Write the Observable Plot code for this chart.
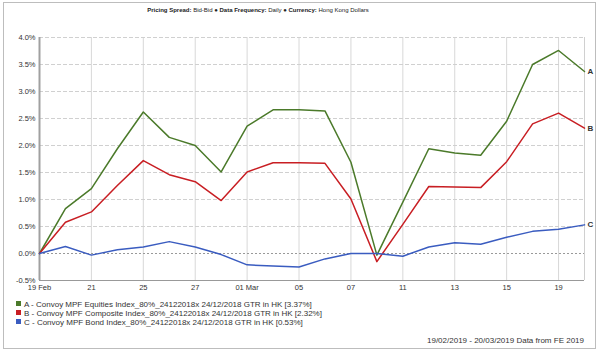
<!DOCTYPE html>
<html><head><meta charset="utf-8">
<script src="https://cdn.jsdelivr.net/npm/d3@7"></script>
<script src="https://cdn.jsdelivr.net/npm/@observablehq/plot@0.6"></script>
<style>
body{margin:0;background:#fff;font-family:"Liberation Sans",Arial,sans-serif;}
#frame{position:absolute;left:3px;top:2px;width:593px;height:347px;border:1px solid #bdbdbd;box-sizing:border-box;}
#title{position:absolute;left:0;width:516px;top:7px;text-align:center;font-size:6px;color:#222;}
#chart{position:absolute;left:0;top:25px;}
#yaxis{position:absolute;left:0;top:25px;}
.leg{position:absolute;left:16px;font-size:8px;color:#333;white-space:nowrap;}
.leg span.sw{display:inline-block;width:5px;height:5px;margin-right:3px;vertical-align:middle;position:relative;top:-1px;}
#foot{position:absolute;right:16px;top:336px;font-size:8px;color:#333;}
</style></head>
<body>
<div id="frame"></div>
<div id="title"><b>Pricing Spread:</b> Bid-Bid &#9679; <b>Data Frequency:</b> Daily &#9679; <b>Currency:</b> Hong Kong Dollars</div>
<div id="legend"></div>
<div id="foot">19/02/2019 - 20/03/2019 Data from FE 2019</div>
<div id="chart"></div>
<div id="yaxis"></div>
<script>
const dayLabels = ["19 Feb","20","21","22","25","26","27","28","01 Mar","04","05","06","07","08","11","12","13","14","15","18","19","20"];
const seriesA = [0,0.83,1.20,1.94,2.62,2.15,2.00,1.51,2.36,2.66,2.66,2.64,1.69,-0.03,0.95,1.94,1.86,1.82,2.45,3.50,3.76,3.37];
const seriesB = [0,0.58,0.77,1.26,1.72,1.46,1.33,0.98,1.51,1.68,1.68,1.67,1.01,-0.15,0.54,1.24,1.23,1.22,1.70,2.40,2.60,2.32];
const seriesC = [0,0.13,-0.03,0.07,0.12,0.22,0.12,-0.02,-0.21,-0.23,-0.25,-0.10,0.00,0.00,-0.05,0.12,0.20,0.17,0.30,0.41,0.45,0.53];
const seriesKeys = ["A","B","C"];
const seriesNames = [
  "A - Convoy MPF Equities Index_80%_24122018x 24/12/2018 GTR in HK [3.37%]",
  "B - Convoy MPF Composite Index_80%_24122018x 24/12/2018 GTR in HK [2.32%]",
  "C - Convoy MPF Bond Index_80%_24122018x 24/12/2018 GTR in HK [0.53%]"
];
const colors = ["#4b7a2a","#c81e23","#3a5cc0"];
const yTicks = [-0.5,0,0.5,1,1.5,2,2.5,3,3.5,4];

const allSeries = [seriesA, seriesB, seriesC];
const data = [];
allSeries.forEach((s, k) => s.forEach((v, i) => data.push({i, v, key: seriesKeys[k]})));
const xTicks = dayLabels.map((d, i) => i).filter(i => i % 2 === 0);
const ends = allSeries.map((s, k) => ({i: s.length - 1, v: s[s.length - 1], key: seriesKeys[k]}));
const fmtPct = d => d.toFixed(1) + "%";

const common = {
  width: 600, height: 270,
  marginLeft: 39, marginRight: 16, marginTop: 12, marginBottom: 15,
  style: {fontFamily: "'Liberation Sans', Arial, sans-serif", fontSize: "7.5px", background: "transparent", overflow: "visible"},
  x: {domain: [0, dayLabels.length - 1], label: null},
  y: {domain: [-0.5, 4], label: null}
};

const chart = Plot.plot({
  ...common,
  y: {domain: [-0.5, 4], label: null, axis: null},
  color: {domain: seriesKeys, range: colors},
  marks: [
    Plot.ruleX(xTicks, {stroke: "#d8d8d8", strokeWidth: 1}),
    Plot.ruleY(yTicks.filter(d => d !== 0 && d !== -0.5), {stroke: "#d0d0d0", strokeDasharray: "4,2"}),
    Plot.ruleY([0], {stroke: "#999", strokeDasharray: "2,2"}),
    Plot.ruleX([dayLabels.length - 1], {stroke: "#d0d0d0"}),
    Plot.ruleY([-0.5], {stroke: "#999"}),
    Plot.ruleX([0], {stroke: "#a0a0a0", strokeWidth: 2}),
    Plot.line(data, {x: "i", y: "v", z: "key", stroke: "key", strokeWidth: 1.5}),
    Plot.text(ends, {x: "i", y: "v", text: "key", dx: 3, textAnchor: "start", fontWeight: "bold", fontSize: 8, fill: "#333"}),
    Plot.axisX({ticks: xTicks, tickFormat: i => dayLabels[i], tickSize: 0, tickPadding: 4, fill: "#333"})
  ]
});
document.getElementById("chart").appendChild(chart);

const yAxisPlot = Plot.plot({
  ...common,
  x: {domain: [0, dayLabels.length - 1], label: null, axis: null},
  marks: [
    Plot.axisY({ticks: yTicks, tickFormat: fmtPct, tickSize: 0, tickPadding: 4, fill: "#333"})
  ]
});
document.getElementById("yaxis").appendChild(yAxisPlot);

const legend = document.getElementById("legend");
const legTops = [300, 309, 318];
seriesNames.forEach((name, k) => {
  const d = document.createElement("div");
  d.className = "leg";
  d.style.top = legTops[k] + "px";
  const sw = document.createElement("span");
  sw.className = "sw";
  sw.style.background = colors[k];
  d.appendChild(sw);
  d.appendChild(document.createTextNode(name));
  legend.appendChild(d);
});
</script>
</body></html>
